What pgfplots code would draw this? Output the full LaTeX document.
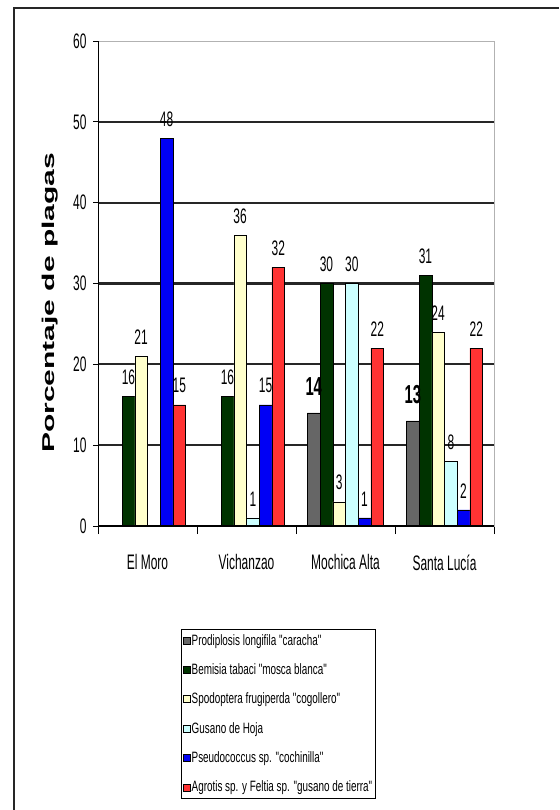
\documentclass[border=0pt]{standalone}
\usepackage{pgfplots}
\pgfplotsset{compat=1.18}
\usepackage{fontspec}
\setmainfont{Liberation Sans}[FakeStretch=0.57]
\newfontfamily\ylabfont{Liberation Sans}
\newfontfamily\legfont{Liberation Sans}[FakeStretch=0.66]

\definecolor{cGray}{RGB}{102,102,102}
\definecolor{cGreen}{RGB}{0,51,0}
\definecolor{cYellow}{RGB}{255,255,204}
\definecolor{cCyan}{RGB}{204,255,255}
\definecolor{cBlue}{RGB}{0,0,245}
\definecolor{cRed}{RGB}{255,51,51}

\newcommand{\tickfont}{\fontsize{21}{24}\selectfont}

\begin{document}
\begin{tikzpicture}
\path[use as bounding box] (0pt,0pt) rectangle (559pt,-810pt);
% page frame (left and top edges)
\draw[line width=1.6pt, black!85] (14pt,-810pt) -- (14pt,-8pt) -- (559pt,-8pt);
\begin{axis}[
  at={(98pt,-526pt)}, anchor=south west,
  width=396pt, height=485pt, scale only axis,
  xmin=-0.5, xmax=3.5, ymin=0, ymax=60,
  ybar=0pt, bar width=12.7pt,
  xtick={-0.5,0.5,1.5,2.5,3.5},
  x tick label as interval,
  xticklabels={El Moro, Vichanzao, Mochica Alta, Santa Lucía},
  ytick={0,10,...,60},
  extra y ticks={10,20,30,40,50},
  extra y tick labels={},
  extra y tick style={grid=major},
  grid style={line width=2.2pt, black!85},
  tick align=outside, tick pos=left,
  major tick length=5pt,
  xtick style={/pgfplots/major tick length=8pt},
  tick style={black, line width=1pt},
  axis line style={gray!60, line width=1pt},
  /pgf/number format/assume math mode=true,
  tick label style={font=\tickfont},
  xticklabel style={yshift=-20pt},
  yticklabel style={xshift=-3pt},
  ylabel={\scalebox{1}[0.57]{\ylabfont\bfseries\fontsize{30}{34}\selectfont Porcentaje de plagas}},
  ylabel style={at={(axis description cs:-0.121,0.46)}, anchor=center},
  nodes near coords,
  nodes near coords style={font=\tickfont, yshift=8pt},
  legend style={at={(axis description cs:0.455,-0.212)}, anchor=north,
    draw=black, line width=0.8pt, font=\legfont\fontsize{15}{17}\selectfont,
    row sep=15pt, inner xsep=2pt, inner ysep=4pt,
    nodes={inner sep=1pt}},
  legend cell align=left,
  legend image code/.code={\draw[#1, line width=0.5pt] (0pt,-3.5pt) rectangle (7pt,3.5pt);},
]
\addplot[fill=cGray, draw=black, line width=0.5pt,
  nodes near coords style={font=\bfseries\fontsize{26}{30}\selectfont, yshift=6pt}]
  coordinates {(2,14) (3,13)};
\addplot[fill=cGreen, draw=black, line width=0.5pt]
  coordinates {(0,16) (1,16) (2,30) (3,31)};
\addplot[fill=cYellow, draw=black, line width=0.5pt]
  coordinates {(0,21) (1,36) (2,3) (3,24)};
\addplot[fill=cCyan, draw=black, line width=0.5pt]
  coordinates {(1,1) (2,30) (3,8)};
\addplot[fill=cBlue, draw=black, line width=0.5pt]
  coordinates {(0,48) (1,15) (2,1) (3,2)};
\addplot[fill=cRed, draw=black, line width=0.5pt]
  coordinates {(0,15) (1,32) (2,22) (3,22)};
\legend{Prodiplosis longifila "caracha",
        Bemisia tabaci "mosca blanca",
        Spodoptera frugiperda "cogollero",
        Gusano de Hoja,
        Pseudococcus sp. "cochinilla",
        Agrotis sp. y Feltia sp. "gusano de tierra"}
% left and bottom axis lines in black
\draw[black, line width=1.4pt] (rel axis cs:0,1) -- (rel axis cs:0,0) -- (rel axis cs:1,0);
\end{axis}
\end{tikzpicture}
\end{document}
